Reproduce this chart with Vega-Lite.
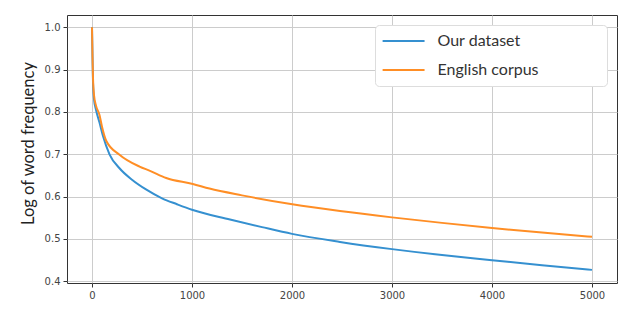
{
  "$schema": "https://vega.github.io/schema/vega-lite/v6.json",
  "autosize": {"type": "none"},
  "padding": {"left": 67, "top": 15, "right": 23, "bottom": 31},
  "width": 550,
  "height": 268,
  "background": "white",
  "config": {
    "view": {"stroke": "#333333", "strokeWidth": 1},
    "axis": {
      "domain": false,
      "grid": true,
      "gridColor": "#cccccc",
      "gridWidth": 1,
      "tickColor": "#333333",
      "tickSize": 4,
      "labelFont": "DejaVu Sans",
      "labelFontSize": 10,
      "labelColor": "#444444",
      "labelPadding": 3
    }
  },
  "data": {
    "values": [
      {"rank": 0, "freq": 1.0, "series": "Our dataset"},
      {"rank": 5, "freq": 0.93, "series": "Our dataset"},
      {"rank": 10, "freq": 0.87, "series": "Our dataset"},
      {"rank": 20, "freq": 0.83, "series": "Our dataset"},
      {"rank": 40, "freq": 0.805, "series": "Our dataset"},
      {"rank": 75, "freq": 0.775, "series": "Our dataset"},
      {"rank": 110, "freq": 0.743, "series": "Our dataset"},
      {"rank": 175, "freq": 0.70, "series": "Our dataset"},
      {"rank": 275, "freq": 0.667, "series": "Our dataset"},
      {"rank": 400, "freq": 0.64, "series": "Our dataset"},
      {"rank": 540, "freq": 0.617, "series": "Our dataset"},
      {"rank": 700, "freq": 0.596, "series": "Our dataset"},
      {"rank": 850, "freq": 0.582, "series": "Our dataset"},
      {"rank": 1000, "freq": 0.569, "series": "Our dataset"},
      {"rank": 1380, "freq": 0.546, "series": "Our dataset"},
      {"rank": 1700, "freq": 0.528, "series": "Our dataset"},
      {"rank": 2000, "freq": 0.512, "series": "Our dataset"},
      {"rank": 2480, "freq": 0.493, "series": "Our dataset"},
      {"rank": 3000, "freq": 0.476, "series": "Our dataset"},
      {"rank": 3500, "freq": 0.462, "series": "Our dataset"},
      {"rank": 4000, "freq": 0.450, "series": "Our dataset"},
      {"rank": 4500, "freq": 0.438, "series": "Our dataset"},
      {"rank": 5000, "freq": 0.427, "series": "Our dataset"},
      {"rank": 0, "freq": 1.0, "series": "English corpus"},
      {"rank": 5, "freq": 0.93, "series": "English corpus"},
      {"rank": 10, "freq": 0.88, "series": "English corpus"},
      {"rank": 20, "freq": 0.84, "series": "English corpus"},
      {"rank": 40, "freq": 0.815, "series": "English corpus"},
      {"rank": 75, "freq": 0.793, "series": "English corpus"},
      {"rank": 100, "freq": 0.765, "series": "English corpus"},
      {"rank": 142, "freq": 0.732, "series": "English corpus"},
      {"rank": 275, "freq": 0.699, "series": "English corpus"},
      {"rank": 475, "freq": 0.671, "series": "English corpus"},
      {"rank": 580, "freq": 0.661, "series": "English corpus"},
      {"rank": 742, "freq": 0.644, "series": "English corpus"},
      {"rank": 1008, "freq": 0.630, "series": "English corpus"},
      {"rank": 1175, "freq": 0.619, "series": "English corpus"},
      {"rank": 1500, "freq": 0.603, "series": "English corpus"},
      {"rank": 2003, "freq": 0.582, "series": "English corpus"},
      {"rank": 2480, "freq": 0.566, "series": "English corpus"},
      {"rank": 3000, "freq": 0.551, "series": "English corpus"},
      {"rank": 3500, "freq": 0.538, "series": "English corpus"},
      {"rank": 4000, "freq": 0.526, "series": "English corpus"},
      {"rank": 4500, "freq": 0.515, "series": "English corpus"},
      {"rank": 5000, "freq": 0.505, "series": "English corpus"}
    ]
  },
  "mark": {"type": "line", "strokeWidth": 2, "interpolate": "monotone", "clip": true},
  "encoding": {
    "x": {
      "field": "rank",
      "type": "quantitative",
      "scale": {"domain": [-250, 5250], "nice": false, "zero": false},
      "axis": {"title": null, "values": [0, 1000, 2000, 3000, 4000, 5000], "format": "d"}
    },
    "y": {
      "field": "freq",
      "type": "quantitative",
      "scale": {"domain": [0.396, 1.029], "nice": false, "zero": false},
      "axis": {
        "title": "Log of word frequency",
        "values": [0.4, 0.5, 0.6, 0.7, 0.8, 0.9, 1.0],
        "format": ".1f",
        "titleFont": "Lato",
        "titleFontSize": 16.5,
        "titleFontWeight": "normal",
        "titleColor": "#222222",
        "titlePadding": 8,
        "titleY": 128
      }
    },
    "color": {
      "field": "series",
      "type": "nominal",
      "sort": ["Our dataset", "English corpus"],
      "scale": {"domain": ["Our dataset", "English corpus"], "range": ["#3590d0", "#ff8e25"]},
      "legend": {
        "title": ".",
        "titleOrient": "right",
        "titleOpacity": 0,
        "titleFontSize": 10,
        "titlePadding": 57,
        "orient": "none",
        "legendX": 308,
        "legendY": 10,
        "symbolType": "M-1.6,0H6.4",
        "symbolSize": 110,
        "symbolStrokeWidth": 2,
        "labelFont": "Lato",
        "labelFontSize": 16,
        "labelColor": "#333333",
        "labelOffset": 38.5,
        "rowPadding": 13,
        "padding": 8,
        "strokeColor": "#dddddd",
        "fillColor": "white",
        "cornerRadius": 4,
        "labelLimit": 400
      }
    }
  }
}
